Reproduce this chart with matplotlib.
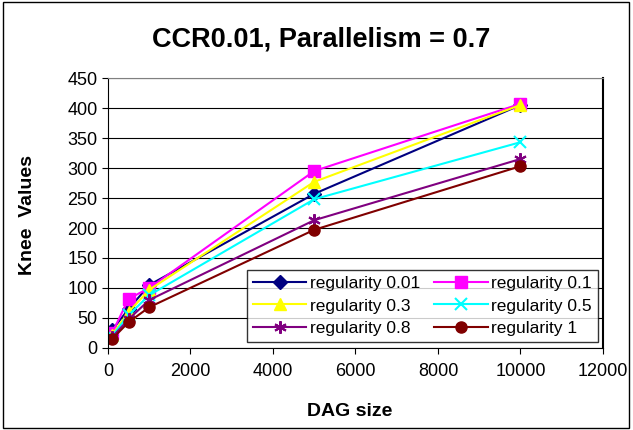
import matplotlib
matplotlib.use("Agg")
import matplotlib.pyplot as plt
from matplotlib.patches import Rectangle

plt.rcParams['font.family'] = ['Liberation Sans', 'DejaVu Sans']

dag_size = [100, 500, 1000, 5000, 10000]
reg_001 = [30, 65, 105, 257, 405]
reg_01 = [25, 82, 100, 295, 407]
reg_03 = [22, 60, 97, 277, 405]
reg_05 = [20, 55, 88, 248, 343]
reg_08 = [18, 48, 80, 213, 315]
reg_1 = [15, 43, 68, 197, 303]

fig = plt.figure(figsize=(6.33, 4.30), dpi=100)
fig.patches.append(Rectangle((0.004, 0.005), 0.99, 0.99, transform=fig.transFigure,
                             fill=False, edgecolor='black', linewidth=1))
ax = fig.add_axes([0.1706, 0.1907, 0.7820, 0.6279])

l1, = ax.plot(dag_size, reg_001, color='#000080', marker='D', markersize=7, label='regularity 0.01')
l2, = ax.plot(dag_size, reg_01, color='#FF00FF', marker='s', markersize=8, label='regularity 0.1')
l3, = ax.plot(dag_size, reg_03, color='#FFFF00', marker='^', markersize=9, label='regularity 0.3')
l4, = ax.plot(dag_size, reg_05, color='#00FFFF', marker='x', markersize=9, markeredgewidth=1.5, label='regularity 0.5')
l5, = ax.plot(dag_size, reg_08, color='#800080', marker=(6, 2, 0), markersize=9, markeredgewidth=1.5, label='regularity 0.8')
l6, = ax.plot(dag_size, reg_1, color='#800000', marker='o', markersize=8, label='regularity 1')

ax.set_xlim(0, 12000)
ax.set_ylim(0, 450)
ax.set_xticks(range(0, 12001, 2000))
ax.set_yticks(range(0, 451, 50))
ax.tick_params(labelsize=13, direction='out', length=4)
ax.tick_params(axis='x', pad=7)
ax.yaxis.grid(True, color='black', linewidth=0.8)
ax.set_axisbelow(True)
ax.spines['top'].set_color('#808080')
ax.spines['right'].set_linewidth(1.5)

fig.text(0.508, 0.909, 'CCR0.01, Parallelism = 0.7', fontsize=19.5, fontweight='bold',
         ha='center', va='center')
fig.text(0.553, 0.044, 'DAG size', fontsize=14, fontweight='bold', ha='center', va='center')
fig.text(0.044, 0.499, 'Knee  Values', fontsize=14, fontweight='bold', ha='center', va='center',
         rotation=90)

leg = ax.legend([l1, l3, l5, l2, l4, l6],
                ['regularity 0.01', 'regularity 0.3', 'regularity 0.8',
                 'regularity 0.1', 'regularity 0.5', 'regularity 1'],
                ncol=2, loc='lower right', bbox_to_anchor=(0.99, 0.022),
                fontsize=12.5, frameon=True, fancybox=False, edgecolor='black',
                handlelength=3.1, columnspacing=0.8, handletextpad=0.2,
                labelspacing=0.42, borderpad=0.35, borderaxespad=0)
leg.get_frame().set_linewidth(1)

fig.savefig('out.png', dpi=100)
